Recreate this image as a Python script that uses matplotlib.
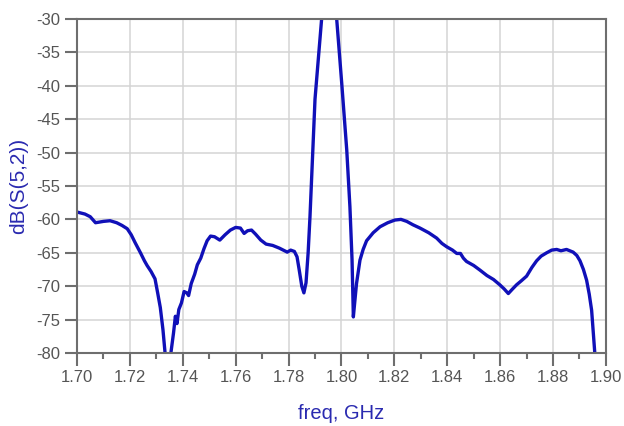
import matplotlib
matplotlib.use("Agg")
import matplotlib.pyplot as plt
from matplotlib.ticker import MultipleLocator, FormatStrFormatter

plt.rcParams['font.family'] = ['Liberation Sans', 'DejaVu Sans']
plt.rcParams['axes.unicode_minus'] = False

freq = [1.7000, 1.7030, 1.7050, 1.7070, 1.7085, 1.7100, 1.7125, 1.7150, 1.7170, 1.7190,
        1.7205, 1.7220, 1.7240, 1.7255, 1.7265, 1.7280, 1.7295, 1.7305, 1.7315, 1.7325,
        1.7333, 1.7340, 1.7350, 1.7355, 1.7365, 1.7372, 1.7378, 1.7385, 1.7395, 1.7405,
        1.7415, 1.7422, 1.7432, 1.7445, 1.7455, 1.7468, 1.7480, 1.7492, 1.7505, 1.7520,
        1.7540, 1.7560, 1.7580, 1.7600, 1.7618, 1.7632, 1.7645, 1.7660, 1.7675, 1.7695,
        1.7715, 1.7740, 1.7765, 1.7780, 1.7795, 1.7808, 1.7822, 1.7832, 1.7840, 1.7850,
        1.7858, 1.7866, 1.7874, 1.7881, 1.7900, 1.7925, 1.7935, 1.7975, 1.7982, 1.8001,
        1.8020, 1.8032, 1.8040, 1.8045, 1.8050, 1.8057, 1.8070, 1.8082, 1.8095, 1.8120,
        1.8146, 1.8175, 1.8202, 1.8225, 1.8247, 1.8270, 1.8297, 1.8330, 1.8360, 1.8380,
        1.8398, 1.8420, 1.8436, 1.8450, 1.8461, 1.8473, 1.8500, 1.8524, 1.8550, 1.8575,
        1.8599, 1.8615, 1.8631, 1.8645, 1.8662, 1.8680, 1.8700, 1.8720, 1.8738, 1.8755,
        1.8776, 1.8795, 1.8814, 1.8830, 1.8851, 1.8876, 1.8890, 1.8902, 1.8915, 1.8927,
        1.8937, 1.8946, 1.8958, 1.8965]
s52_db = [-58.9, -59.2, -59.6, -60.5, -60.4, -60.3, -60.2, -60.5, -60.9, -61.4,
          -62.3, -63.5, -65.0, -66.2, -66.9, -67.8, -68.9, -71.0, -73.2, -76.5,
          -80.0, -83.0, -83.0, -80.0, -77.0, -74.5, -75.6, -73.5, -72.5, -70.8,
          -71.0, -71.4, -69.6, -68.2, -66.8, -65.8, -64.4, -63.2, -62.5, -62.6,
          -63.1, -62.3, -61.6, -61.2, -61.3, -62.1, -61.7, -61.6, -62.2, -63.1,
          -63.7, -63.9, -64.3, -64.6, -64.9, -64.6, -64.8, -65.6, -67.5, -70.0,
          -71.0, -69.5, -65.0, -59.6, -42.0, -30.0, -24.0, -24.0, -30.0, -39.6,
          -49.6, -58.1, -66.0, -74.6, -72.5, -69.6, -66.1, -64.5, -63.2, -62.0,
          -61.1, -60.5, -60.1, -60.0, -60.3, -60.8, -61.3, -62.0, -62.8, -63.6,
          -64.1, -64.6, -65.1, -65.1, -65.8, -66.3, -66.9, -67.6, -68.4, -69.0,
          -69.8, -70.4, -71.1, -70.5, -69.8, -69.2, -68.5, -67.2, -66.2, -65.5,
          -65.0, -64.6, -64.5, -64.7, -64.5, -64.9, -65.4, -66.2, -67.5, -69.1,
          -71.2, -73.6, -80.0, -83.0]

fig = plt.figure(figsize=(6.24, 4.26), dpi=100)
ax = fig.add_axes([0.1234, 0.1714, 0.8476, 0.784])

ax.plot(freq, s52_db, color='#1010B8', lw=2.4, solid_joinstyle='round')
ax.set_xlim(1.70, 1.90)
ax.set_ylim(-80, -30)

ax.xaxis.set_major_locator(MultipleLocator(0.02))
ax.xaxis.set_minor_locator(MultipleLocator(0.01))
ax.xaxis.set_major_formatter(FormatStrFormatter('%.2f'))
ax.yaxis.set_major_locator(MultipleLocator(5))

ax.grid(True, which='major', color='#d4d4d4', lw=1.1)
ax.set_axisbelow(True)
for sp in ax.spines.values():
    sp.set_color('#6e6e6e')
    sp.set_linewidth(1.5)

ax.tick_params(which='major', direction='out', length=9, width=1.5, color='#6e6e6e',
               labelsize=12, labelcolor='#555555', pad=3)
ax.tick_params(which='minor', direction='out', length=4, width=1.5, color='#6e6e6e')

ax.set_xlabel('freq, GHz', color='#2a2ab0', fontsize=14.5, labelpad=14)
ax.set_ylabel('dB(S(5,2))', color='#2a2ab0', fontsize=15, labelpad=6)

fig.savefig('out.png', dpi=100)
